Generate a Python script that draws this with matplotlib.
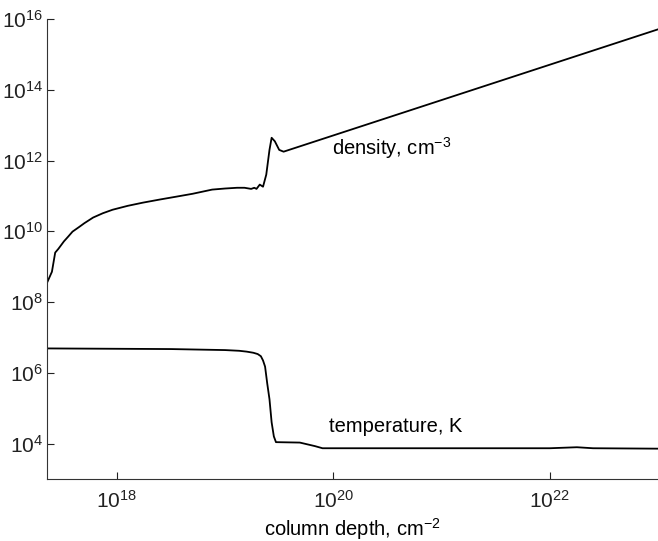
import matplotlib
matplotlib.use('Agg')
import matplotlib.pyplot as plt

plt.rcParams['font.family'] = ['Liberation Sans', 'DejaVu Sans']
plt.rcParams['mathtext.fontset'] = 'custom'
plt.rcParams['mathtext.rm'] = 'Liberation Sans'
plt.rcParams['mathtext.it'] = 'Liberation Sans'
plt.rcParams['mathtext.bf'] = 'Liberation Sans:bold'
plt.rcParams['mathtext.sf'] = 'Liberation Sans'

# column depth (cm^-2) and density (cm^-3)
dens_col = [2.26e17, 2.51e17, 2.69e17, 2.88e17, 3.24e17, 3.55e17, 3.89e17, 4.47e17,
            5.01e17, 6.03e17, 7.41e17, 9.12e17, 1.26e18, 1.74e18, 2.51e18, 3.55e18,
            5.01e18, 7.59e18, 1.0e19, 1.29e19, 1.51e19, 1.74e19, 1.86e19, 1.95e19,
            2.09e19, 2.24e19, 2.40e19, 2.57e19, 2.69e19, 2.88e19, 3.16e19, 3.47e19,
            1.0e23]
density = [3.5e8, 7.2e8, 2.5e9, 3.2e9, 5.2e9, 7.1e9, 9.8e9, 1.32e10,
           1.70e10, 2.45e10, 3.24e10, 4.07e10, 5.25e10, 6.46e10, 7.94e10, 9.55e10,
           1.15e11, 1.51e11, 1.62e11, 1.70e11, 1.70e11, 1.58e11, 1.70e11, 1.58e11,
           2.09e11, 1.82e11, 4.0e11, 2.0e12, 4.4e12, 3.5e12, 2.0e12, 1.78e12,
           5.1e15]

# column depth (cm^-2) and temperature (K)
temp_col = [2.26e17, 3.16e18, 1.0e19, 1.35e19, 1.58e19, 1.82e19, 2.0e19, 2.14e19,
            2.24e19, 2.34e19, 2.45e19, 2.57e19, 2.69e19, 2.82e19, 2.95e19, 4.9e19,
            6.76e19, 7.94e19, 1.0e22, 1.78e22, 2.51e22, 1.0e23]
temperature = [4.9e6, 4.7e6, 4.4e6, 4.2e6, 3.98e6, 3.7e6, 3.4e6, 2.95e6,
               2.24e6, 1.5e6, 5.0e5, 1.8e5, 4.0e4, 1.6e4, 1.1e4, 1.07e4,
               8.5e3, 7.4e3, 7.4e3, 7.9e3, 7.4e3, 7.2e3]

xticks = [1e18, 1e20, 1e22]
yticks = [1e4, 1e6, 1e8, 1e10, 1e12, 1e14, 1e16]

fig = plt.figure(figsize=(6.58, 5.41), dpi=100)
ax = fig.add_axes([47 / 658, 1 - 479 / 541, 611 / 658, 460 / 541])

ax.loglog(dens_col, density, color='black', lw=1.3)
ax.loglog(temp_col, temperature, color='black', lw=1.3)

ax.set_xlim(2.26e17, 1e23)
ax.set_ylim(1e3, 1e16)
ax.set_xticks(xticks)
ax.set_yticks(yticks)
ax.minorticks_off()

for s in ['top', 'right']:
    ax.spines[s].set_visible(False)
for s in ['left', 'bottom']:
    ax.spines[s].set_color('#333333')
ax.tick_params(direction='in', length=5, labelsize=15, colors='#222222', pad=3)
ax.tick_params(axis='x', pad=8)

ax.text(9.7e19, 1.45e12, 'density, cm$^{-3}$', fontsize=14.5, va='baseline')
ax.text(9.2e19, 2.1e4, 'temperature, K', fontsize=14.5, va='baseline')
ax.set_xlabel('column depth, cm$^{-2}$', fontsize=14.5, labelpad=3)

fig.savefig('out.png', dpi=100)
